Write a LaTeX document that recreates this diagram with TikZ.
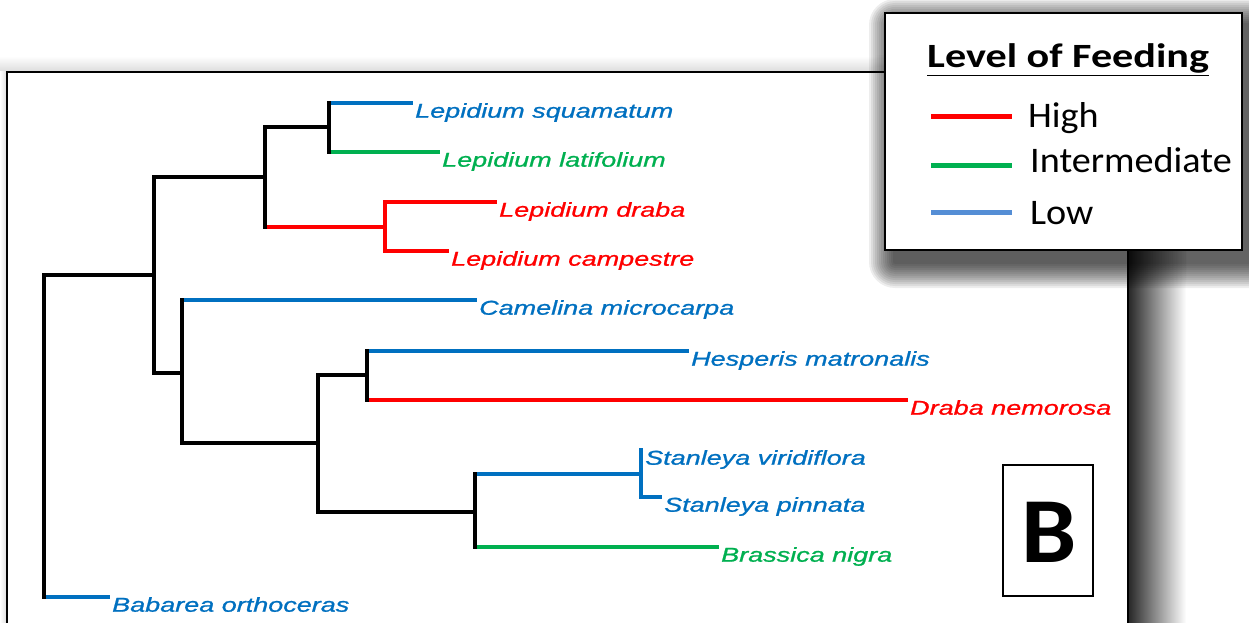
\documentclass[tikz,border=0pt]{standalone}
\usepackage{fontspec}
\setmainfont{Liberation Sans}
\newfontfamily\taxonfont[FakeStretch=1.35, FakeBold=1]{Liberation Sans}
\newfontfamily\keyfont[FakeStretch=1.06]{Carlito}
\newfontfamily\titlefont[FakeStretch=1.24]{Carlito}

\definecolor{highred}{HTML}{FF0000}
\definecolor{midgreen}{HTML}{00B050}
\definecolor{lowblue}{HTML}{0070C0}
\definecolor{keyblue}{HTML}{558ED5}

\begin{document}
\begin{tikzpicture}[
    x=1pt, y=-1pt,
    branch/.style={line width=3.6pt, line cap=rect},
    swatch/.style={line width=5pt},
    panel/.style={draw, line width=2pt, fill=white},
    taxon/.style={
        font=\taxonfont\itshape\fontsize{20}{24}\selectfont,
        anchor=north west,
        inner xsep=4pt,
        inner ysep=0pt},
    keytext/.style={
        font=\keyfont\fontsize{36}{40}\selectfont,
        anchor=base west,
        inner sep=0pt}]
    \useasboundingbox (0,0) rectangle (1249,623);

    % shadow of the tree panel
    \shade[left color=black!88, right color=white] (1126,72) rectangle (1186,623);
    \shade[top color=white, bottom color=black!14] (0,56) rectangle (1128,72);
    \shade[left color=white, right color=black!14] (0,72) rectangle (7,623);
    \draw[panel] (7,72) rectangle (1128,680);

    % branching points
    \coordinate (r) at (44,275);
    \coordinate (n1) at (154,275);
    \coordinate (n2) at (265,177);
    \coordinate (n3) at (329,127);
    \coordinate (n4) at (385,227);
    \coordinate (n5) at (182,373);
    \coordinate (n6) at (318,443);
    \coordinate (n7) at (367,375);
    \coordinate (n8) at (475,512);
    \coordinate (n9) at (641,474);

    % taxa
    \node[taxon, text=lowblue] (squ) at (411,103) {Lepidium squamatum};
    \node[taxon, text=midgreen] (lat) at (438,152) {Lepidium latifolium};
    \node[taxon, text=highred] (dra) at (495,202) {Lepidium draba};
    \node[taxon, text=highred] (cam) at (447,251) {Lepidium campestre};
    \node[taxon, text=lowblue] (mic) at (475,300) {Camelina microcarpa};
    \node[taxon, text=lowblue] (hes) at (687,351) {Hesperis matronalis};
    \node[taxon, text=highred] (nem) at (906,400) {Draba nemorosa};
    \node[taxon, text=lowblue] (vir) at (641,450) {Stanleya viridiflora};
    \node[taxon, text=lowblue] (pin) at (660,497) {Stanleya pinnata};
    \node[taxon, text=midgreen] (nig) at (717,547) {Brassica nigra};
    \node[taxon, text=lowblue] (bab) at (108,597) {Babarea orthoceras};

    % horizontal branches
    \draw[branch] (r) -- (n1);
    \draw[branch] (n1 |- n2) -- (n2);
    \draw[branch] (n2 |- n3) -- (n3);
    \draw[branch] (n1 |- n5) -- (n5);
    \draw[branch] (n5 |- n6) -- (n6);
    \draw[branch] (n6 |- n7) -- (n7);
    \draw[branch] (n6 |- n8) -- (n8);
    \draw[branch, highred] (n2 |- n4) -- (n4);
    \draw[branch, highred] (n4 |- dra.north west) -- (dra.north west);
    \draw[branch, highred] (n4 |- cam.north west) -- (cam.north west);
    \draw[branch, highred] (n7 |- nem.north west) -- (nem.north west);
    \draw[branch, midgreen] (n3 |- lat.north west) -- (lat.north west);
    \draw[branch, midgreen] (n8 |- nig.north west) -- (nig.north west);
    \draw[branch, lowblue] (n3 |- squ.north west) -- (squ.north west);
    \draw[branch, lowblue] (n5 |- mic.north west) -- (mic.north west);
    \draw[branch, lowblue] (n7 |- hes.north west) -- (hes.north west);
    \draw[branch, lowblue] (n8 |- n9) -- (n9);
    \draw[branch, lowblue] (n9 |- pin.north west) -- (pin.north west);
    \draw[branch, lowblue] (r |- bab.north west) -- (bab.north west);

    % vertical branches
    \draw[branch] (r) -- (r |- bab.north west);
    \draw[branch] (n1 |- n2) -- (n1 |- n5);
    \draw[branch] (n2 |- n3) -- (n2 |- n4);
    \draw[branch] (n3 |- squ.north west) -- (n3 |- lat.north west);
    \draw[branch, highred] (n4 |- dra.north west) -- (n4 |- cam.north west);
    \draw[branch] (n5 |- mic.north west) -- (n5 |- n6);
    \draw[branch] (n6 |- n7) -- (n6 |- n8);
    \draw[branch] (n7 |- hes.north west) -- (n7 |- nem.north west);
    \draw[branch] (n8 |- n9) -- (n8 |- nig.north west);
    \draw[branch, lowblue] (n9 |- vir.north west) -- (n9 |- pin.north west);

    % panel letter
    \draw[line width=1.5pt] (1003,465) rectangle (1093,596);
    \node[font=\keyfont\bfseries\fontsize{93}{93}\selectfont, anchor=base, inner sep=0pt]
        (letter) at (1049,562) {B};

    % legend, with a soft shadow
    \foreach \d in {2,4,...,26}
        \fill[black, opacity=0.07, rounded corners=\d pt]
            (895-\d,25-\d) rectangle (1252+\d,262+\d);
    \draw[panel] (885,13) rectangle (1242,250);
    \node[font=\titlefont\bfseries\fontsize{34}{40}\selectfont, anchor=base west, inner sep=0pt]
        (title) at (927,68) {\underline{Level of Feeding}};
    \node[keytext] (hightxt) at (1028,128) {High};
    \node[keytext] (midtxt) at (1030,172) {Intermediate};
    \node[keytext] (lowtxt) at (1030,224) {Low};
    \draw[swatch, highred] (931,117) -- (1012,117);
    \draw[swatch, midgreen] (931,165) -- (1012,165);
    \draw[swatch, keyblue] (931,212) -- (1012,212);
\end{tikzpicture}
\end{document}
